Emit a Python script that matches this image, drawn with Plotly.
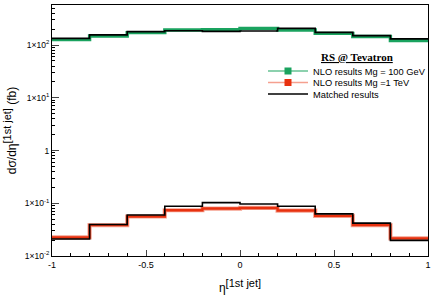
import plotly.graph_objects as go

edges = [-1.0, -0.8, -0.6, -0.4, -0.2, 0.0, 0.2, 0.4, 0.6, 0.8, 1.0]
nlo_100gev = [127, 149, 172, 193, 196, 207, 193, 167, 145, 122]
matched_high = [134, 156, 180, 187, 182, 185, 207, 174, 151, 131]
nlo_1tev = [0.0225, 0.0385, 0.0561, 0.0738, 0.0794, 0.0815, 0.0728, 0.0576, 0.0385, 0.0216]
matched_low = [0.0210, 0.0396, 0.0601, 0.0878, 0.103, 0.097, 0.0878, 0.0629, 0.042, 0.0198]

ytickvals = [0.01, 0.1, 1, 10, 100]
yticktext = ["1×10<sup>-2</sup>", "1×10<sup>-1</sup>", "1", "1×10<sup>1</sup>", "1×10<sup>2</sup>"]
xtickvals = [-1, -0.5, 0, 0.5, 1]
xticktext = ["-1", "-0.5", "0", "0.5", "1"]
yminor = [k * 10.0 ** d for d in range(-2, 3) for k in range(2, 10)]

GREEN = "#1aa35f"
RED = "#e8310f"
PINK = "#f5a08f"
FONT = "Liberation Sans"

# plot-area geometry (pixels) used to place the legends
L, T, W, H = 52, 5, 376, 251


def step(v):
    return list(v) + [v[-1]]


def py(ypix):
    return (T + H - ypix) / H


fig = go.Figure()

fig.add_trace(go.Scatter(x=edges, y=step(nlo_100gev), mode="lines", line=dict(color=GREEN, width=3.4, shape="hv"), showlegend=False))
fig.add_trace(go.Scatter(x=edges, y=step(nlo_1tev), mode="lines", line=dict(color=PINK, width=4.2, shape="hv"), showlegend=False))
fig.add_trace(go.Scatter(x=edges, y=step(nlo_1tev), mode="lines", line=dict(color=RED, width=2.4, shape="hv"), showlegend=False))
fig.add_trace(go.Scatter(x=edges, y=step(matched_high), mode="lines", line=dict(color="black", width=1.6, shape="hv"), showlegend=False))
fig.add_trace(go.Scatter(x=edges, y=step(matched_low), mode="lines", line=dict(color="black", width=1.6, shape="hv"), showlegend=False))

fig.add_trace(go.Scatter(x=[None], y=[None], mode="lines+markers", name="NLO results Mg = 100 GeV", legend="legend",
                         line=dict(color=GREEN, width=1.2), marker=dict(color=GREEN, symbol="square", size=7)))
fig.add_trace(go.Scatter(x=[None], y=[None], mode="lines+markers", name="NLO results Mg =1 TeV", legend="legend2",
                         line=dict(color=PINK, width=1.5), marker=dict(color=RED, symbol="square", size=7)))
fig.add_trace(go.Scatter(x=[None], y=[None], mode="lines", name="Matched results", legend="legend3",
                         line=dict(color="black", width=1.6)))

legx = (263 - L) / W
legcommon = dict(x=legx, xanchor="left", yanchor="middle", bgcolor="rgba(0,0,0,0)",
                 font=dict(family=FONT, size=9.3), itemwidth=40)

fig.update_layout(
    width=436, height=308,
    margin=dict(l=L, r=436 - L - W, t=T, b=308 - T - H, autoexpand=False),
    paper_bgcolor="white", plot_bgcolor="white",
    font=dict(family=FONT, size=9, color="black"),
    showlegend=True,
    legend=dict(y=py(71), **legcommon),
    legend2=dict(y=py(82.5), **legcommon),
    legend3=dict(y=py(94), **legcommon),
    xaxis=dict(range=[-1, 1], tickvals=xtickvals, ticktext=xticktext, ticks="inside", ticklen=6,
               showline=True, linecolor="black", linewidth=1.2, mirror=True, showgrid=False, zeroline=False,
               tickfont=dict(size=9), automargin=False,
               minor=dict(dtick=0.1, ticks="inside", ticklen=3, tickcolor="black", showgrid=False),
               title=dict(text="η<sup><span style='font-size:11px'>[1st jet]</span></sup>", font=dict(size=12), standoff=14)),
    yaxis=dict(type="log", range=[-2, 2.76], tickvals=ytickvals, ticktext=yticktext, ticks="inside", ticklen=7,
               showline=True, linecolor="black", linewidth=1.2, mirror=True, showgrid=False, zeroline=False,
               tickfont=dict(size=8.5), automargin=False,
               minor=dict(tickvals=yminor, ticks="inside", ticklen=3, tickcolor="black", showgrid=False),
               title=dict(text="dσ/dη<sup><span style='font-size:11px'>[1st jet]</span></sup> (fb)", font=dict(size=12), standoff=5)),
    annotations=[dict(text="<b><u>RS @ Tevatron</u></b>", x=(357 - L) / W, y=py(57), xref="paper", yref="paper",
                      showarrow=False, xanchor="center", yanchor="middle",
                      font=dict(family="Liberation Serif", size=11))],
)

fig.write_html("out.html", config={"displayModeBar": False},
               post_script="document.body.style.margin='0px';")
